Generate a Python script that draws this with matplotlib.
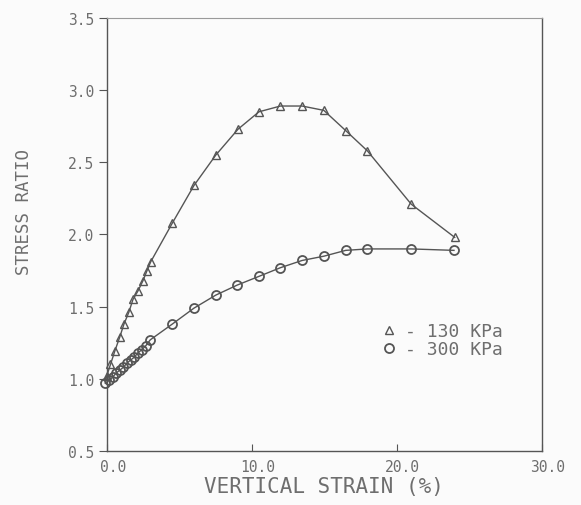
import matplotlib.pyplot as plt
import matplotlib.transforms as mtransforms
from matplotlib.lines import Line2D

plt.rcParams['font.family'] = ['DejaVu Sans Mono', 'DejaVu Sans']

# 130 KPa series (triangles)
strain_130 = [0.0, 0.26, 0.55, 0.9, 1.19, 1.52, 1.81, 2.16, 2.5, 2.78, 3.03,
              4.53, 6.02, 7.52, 9.06, 10.5, 11.98, 13.47, 14.97, 16.48, 17.97,
              21.0, 24.0]
ratio_130 = [1.02, 1.10, 1.19, 1.29, 1.38, 1.46, 1.55, 1.61, 1.68, 1.75, 1.81,
             2.08, 2.34, 2.55, 2.73, 2.85, 2.89, 2.89, 2.86, 2.72, 2.58,
             2.21, 1.98]

# 300 KPa series (circles)
strain_300 = [-0.1, 0.15, 0.4, 0.65, 0.9, 1.15, 1.4, 1.65, 1.9, 2.15, 2.4,
              2.7, 3.0, 4.53, 6.02, 7.52, 9.01, 10.5, 11.98, 13.47, 14.99,
              16.48, 17.98, 21.0, 23.95]
ratio_300 = [0.97, 0.99, 1.01, 1.04, 1.06, 1.08, 1.11, 1.13, 1.15, 1.18, 1.20,
             1.23, 1.27, 1.38, 1.49, 1.58, 1.65, 1.71, 1.77, 1.82, 1.85,
             1.89, 1.90, 1.90, 1.89]

x_ticks = [0, 10, 20, 30]
x_labels = ['0.0', '10.0', '20.0', '30.0']
y_ticks = [0.5, 1.0, 1.5, 2.0, 2.5, 3.0, 3.5]
y_labels = ['0.5', '1.0', '1.5', '2.0', '2.5', '3.0', '3.5']

ink = '#555555'
txt = '#6e6e6e'

fig = plt.figure(figsize=(5.81, 5.06), dpi=100, facecolor='#fbfbfb')
ax = fig.add_axes([0.1837, 0.1067, 0.7487, 0.8558])
ax.set_facecolor('#fbfbfb')

ax.plot(strain_130, ratio_130, color=ink, lw=1.0, marker='^', ms=5.5,
        mfc='none', mec=ink, mew=1.0, clip_on=False)
ax.plot(strain_300, ratio_300, color=ink, lw=1.0, marker='o', ms=6.5,
        mfc='none', mec=ink, mew=1.3, clip_on=False)

ax.set_xlim(0, 30)
ax.set_ylim(0.5, 3.5)
ax.set_xticks(x_ticks)
ax.set_xticklabels(x_labels)
ax.set_yticks(y_ticks)
ax.set_yticklabels(y_labels)

ax.tick_params(axis='x', direction='in', length=5, color=ink, labelsize=10.5,
               labelcolor=txt, pad=6)
ax.tick_params(axis='y', direction='out', length=6, color=ink, labelsize=10.5,
               labelcolor=txt, pad=3)

# tick labels sit a little to the right of their ticks in the original
shift = mtransforms.ScaledTranslation(6 / 100, 0, fig.dpi_scale_trans)
for lab in ax.get_xticklabels():
    lab.set_transform(lab.get_transform() + shift)

for side in ['left', 'bottom', 'right']:
    ax.spines[side].set_color(ink)
    ax.spines[side].set_linewidth(1.0)
ax.spines['top'].set_color('#9a9a9a')
ax.spines['top'].set_linewidth(0.8)

ax.set_xlabel('VERTICAL STRAIN (%)', fontsize=15, color=txt, labelpad=1)
ax.set_ylabel('STRESS RATIO', fontsize=12.5, color=txt, labelpad=22)
ax.yaxis.set_label_coords(-0.17, 0.555)

handles = [Line2D([], [], ls='none', marker='^', ms=5.5, mfc='none', mec=ink),
           Line2D([], [], ls='none', marker='o', ms=6.5, mfc='none', mec=ink, mew=1.3)]
ax.legend(handles, ['- 130 KPa', '- 300 KPa'], frameon=False, fontsize=13,
          labelcolor=txt, loc='upper left', bbox_to_anchor=(0.59, 0.335),
          handlelength=1.0, handletextpad=0.4, labelspacing=0.0)

fig.savefig('out.png', dpi=100, facecolor=fig.get_facecolor())
